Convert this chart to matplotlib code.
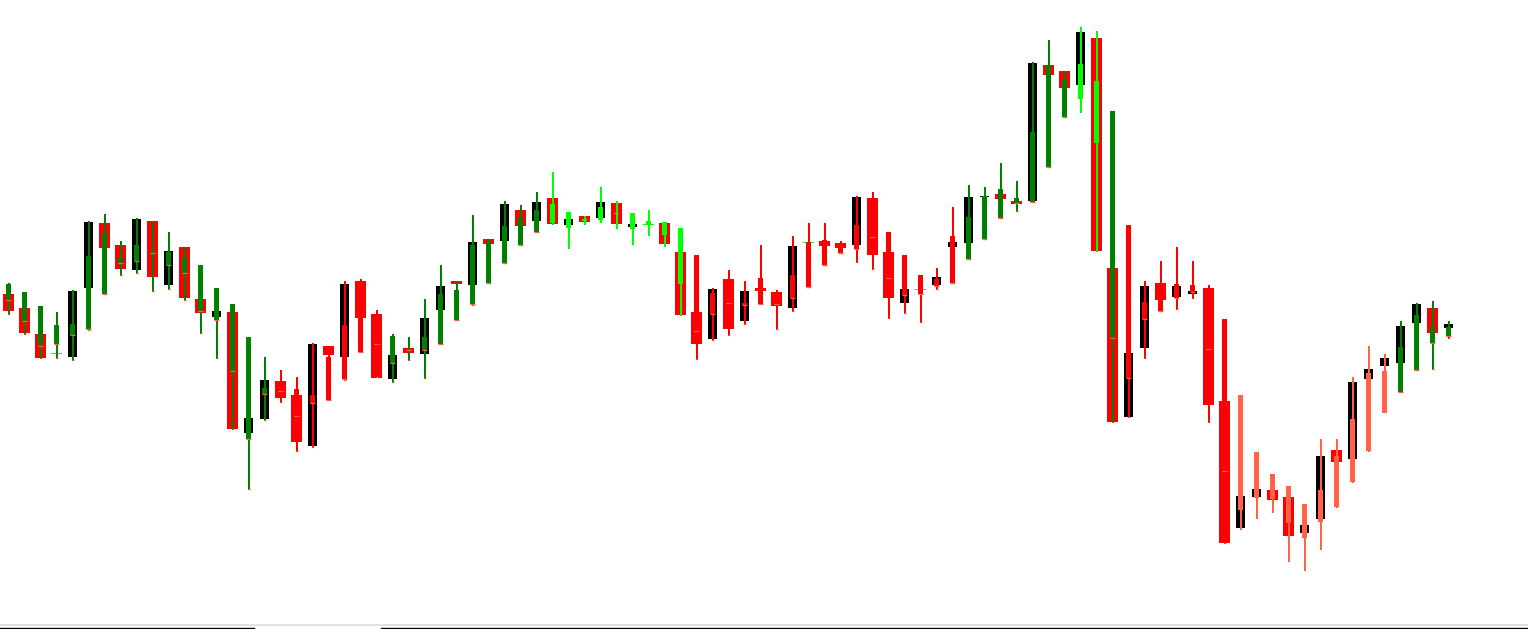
import matplotlib
matplotlib.use("Agg")
import matplotlib.pyplot as plt
from matplotlib.lines import Line2D

# wide candle body (hi / lo of body) and its colour
wide_hi = [335, 321, 295, 275, 338, 407, 406, 384, 410, 408, 378, 382, 330, 318, 317, 211,
           249, 248, 234, 285, 283, 345, 348, 315, 274, 281, 311, 343, 348, 387, 390, 425,
           419, 427, 431, 410, 413, 427, 426, 405, 404, 406, 377, 317, 340, 350, 338, 341,
           337, 383, 386, 388, 386, 432, 431, 377, 340, 339, 352, 387, 432, 432, 435, 428,
           566, 564, 558, 597, 591, 361, 276, 343, 346, 343, 338, 341, 228, 133, 140, 139,
           132, 104, 173, 179, 247, 260, 271, 303, 325, 321, 305]
wide_lo = [318, 296, 271, 275, 272, 341, 381, 360, 359, 352, 344, 331, 316, 312, 200, 196,
           210, 231, 187, 183, 274, 272, 311, 251, 250, 276, 275, 319, 345, 344, 385, 388,
           403, 408, 405, 404, 407, 411, 405, 402, 404, 385, 314, 285, 290, 300, 308, 338,
           323, 321, 386, 383, 381, 384, 374, 331, 326, 339, 344, 382, 386, 432, 430, 425,
           428, 554, 541, 544, 378, 207, 212, 281, 329, 332, 335, 224, 86, 101, 132, 129,
           93, 96, 110, 167, 170, 250, 263, 266, 306, 296, 301]
wide_col = list("rrrlbbrrbrbrrbrb"
                "brrbrbrrbrbbrbrb"
                "rbrbrbrblrrrbrbr"
                "rblrrbrrblbbbbrr"
                "brrbrrbbrbbrrbbr"
                "rbbrbbbbbrb")

# narrow candle: body hi / lo, wick high / low, colour
body_hi = [345, 337, 323, 304, 305, 373, 396, 372, 384, 377, 377, 371, 364, 341, 325, 292,
           241, 248, 240, 234, 272, 304, 311, 315, 293, 280, 292, 335, 339, 384, 388, 403,
           411, 419, 425, 417, 410, 422, 416, 416, 408, 407, 401, 374, 336, 350, 326, 351,
           337, 354, 387, 389, 386, 404, 431, 397, 374, 354, 350, 393, 412, 433, 440, 431,
           497, 563, 549, 565, 548, 518, 404, 327, 346, 345, 344, 341, 310, 234, 177, 155,
           143, 125, 139, 173, 210, 256, 258, 282, 314, 302, 302]
body_lo = [329, 308, 283, 285, 294, 300, 335, 366, 368, 376, 364, 356, 318, 309, 258, 190,
           235, 238, 213, 226, 229, 250, 277, 285, 266, 279, 279, 285, 309, 325, 346, 366,
           384, 397, 406, 401, 408, 409, 415, 400, 405, 394, 345, 298, 315, 326, 324, 325,
           325, 331, 342, 364, 376, 380, 392, 351, 334, 335, 343, 346, 370, 390, 411, 426,
           427, 462, 512, 530, 486, 291, 251, 310, 318, 331, 337, 280, 158, 119, 131, 130,
           106, 91, 107, 122, 147, 178, 216, 237, 259, 286, 293]
wick_hi = [346, 337, 323, 317, 339, 408, 415, 388, 411, 408, 397, 382, 364, 341, 325, 292,
           272, 259, 252, 286, 274, 348, 350, 319, 295, 292, 330, 364, 348, 414, 390, 428,
           424, 437, 457, 417, 413, 442, 428, 416, 419, 407, 401, 374, 341, 359, 348, 384,
           339, 393, 406, 406, 388, 433, 437, 397, 374, 354, 361, 422, 444, 442, 466, 448,
           567, 589, 558, 602, 598, 518, 404, 348, 368, 382, 368, 344, 310, 234, 177, 155,
           143, 125, 190, 190, 252, 283, 275, 308, 326, 328, 308]
wick_lo = [314, 294, 270, 270, 268, 298, 334, 353, 355, 337, 339, 328, 295, 270, 199, 139,
           208, 226, 177, 181, 228, 248, 276, 251, 246, 268, 250, 284, 308, 323, 345, 365,
           383, 396, 404, 380, 404, 406, 400, 384, 393, 382, 313, 269, 288, 293, 304, 324,
           299, 317, 341, 363, 375, 366, 359, 310, 315, 306, 339, 345, 369, 389, 410, 417,
           426, 461, 511, 516, 377, 206, 211, 270, 317, 319, 330, 206, 85, 99, 110, 116,
           67, 58, 79, 121, 146, 177, 216, 236, 258, 259, 290]
narrow_col = list("gggggggggggggggg"
                  "grrrrrrrgggggggg"
                  "ggLLLLLLLLLrrrrr"
                  "rrrrrrrrrrrrgggg"
                  "gggLLgrrrrrrrttt"
                  "tttttttgggg")

colors = {"r": "#ff0000", "b": "#000000", "g": "#008000", "l": "#00ff00",
          "L": "#00ff00", "t": "#ff6347"}

W, H = 1528, 629
fig = plt.figure(figsize=(W / 100, H / 100), dpi=100)
ax = fig.add_axes([0, 0, 1, 1])
ax.set_xlim(-8.5 / 16, (W - 8.5) / 16)
ax.set_ylim(0, H)
ax.axis("off")

n = len(wide_hi)
xs = list(range(n))
for i in xs:
    c = wide_col[i]
    w = 11 / 16 if c in "rl" else 9 / 16
    h = max(wide_hi[i] - wide_lo[i], 1.5)
    ax.bar(i, h, bottom=wide_lo[i], width=w, color=colors[c], linewidth=0, zorder=1)

for i in xs:
    c = narrow_col[i]
    col = colors[c]
    ax.vlines(i, wick_lo[i], wick_hi[i], color=col, linewidth=1.44, zorder=2)
    h = max(body_hi[i] - body_lo[i], 1.5)
    ax.bar(i, h, bottom=body_lo[i], width=5 / 16, color=col, linewidth=0, zorder=3)
    if c in "gr":
        ax.hlines(body_lo[i], i - 2.5 / 16, i + 2.5 / 16, color="#ff6347", linewidth=0.9, zorder=4)
        ax.hlines(wick_lo[i] + 1.5, i - 1 / 16, i + 1 / 16, color="#ff6347", linewidth=0.9, zorder=4)

# bottom scroll/tab strip
def fx(x):
    return x / W

def fy(y):
    return 1 - y / H

fig.add_artist(Line2D([0, 1], [fy(625), fy(625)], color="#dddddd", linewidth=1.2))
fig.add_artist(Line2D([0, fx(254), fx(254)], [fy(627.5), fy(627.5), fy(629)], color="black", linewidth=1.0))
fig.add_artist(Line2D([fx(381), fx(381), 1], [fy(629), fy(627.5), fy(627.5)], color="black", linewidth=1.0))

fig.savefig("out.png", dpi=100, facecolor="white")
